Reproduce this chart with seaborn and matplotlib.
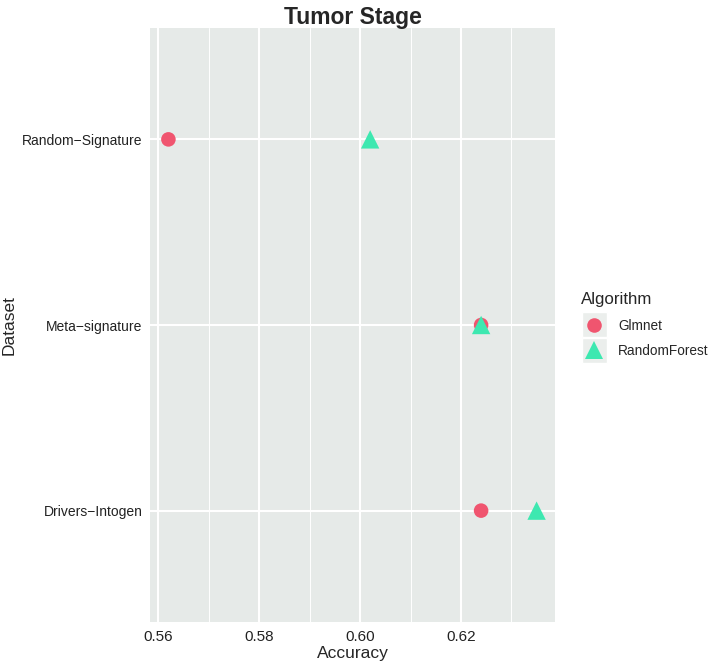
import matplotlib
matplotlib.use("Agg")
import matplotlib.pyplot as plt
import numpy as np
import pandas as pd
import seaborn as sns
from matplotlib.patches import Rectangle
from matplotlib.ticker import MultipleLocator

# data
datasets = ["Drivers\u2212Intogen", "Meta\u2212signature", "Random\u2212Signature"]
glmnet_acc = [0.624, 0.624, 0.562]
rf_acc = [0.635, 0.624, 0.602]
algorithms = ["Glmnet", "RandomForest"]
palette = {"Glmnet": "#F0556F", "RandomForest": "#3DE8B0"}

df = pd.DataFrame({
    "Dataset": datasets * 2,
    "Accuracy": glmnet_acc + rf_acc,
    "Algorithm": ["Glmnet"] * 3 + ["RandomForest"] * 3,
})

sns.set_theme(style="white")
plt.rcParams["font.family"] = ["Liberation Sans", "DejaVu Sans"]

fig = plt.figure(figsize=(7.09, 6.63), dpi=100)
ax = fig.add_axes([150 / 709, 1 - 622 / 663, 405 / 709, 594 / 663])
ax.set_facecolor("#E6EAE8")

sns.scatterplot(
    data=df, x="Accuracy", y="Dataset",
    hue="Algorithm", style="Algorithm", size="Algorithm",
    hue_order=algorithms, style_order=algorithms, size_order=algorithms,
    palette=palette,
    markers={"Glmnet": "o", "RandomForest": "^"},
    sizes={"Glmnet": 110, "RandomForest": 175},
    linewidth=0, ax=ax, zorder=3,
)

lo, hi = min(glmnet_acc + rf_acc), max(glmnet_acc + rf_acc)
pad = (hi - lo) * 0.05
ax.set_xlim(lo - pad, hi + pad)
ax.set_ylim(-0.6, len(datasets) - 0.4)

ax.xaxis.set_major_locator(MultipleLocator(0.02))
ax.xaxis.set_minor_locator(MultipleLocator(0.01))
ax.xaxis.set_major_formatter(plt.FuncFormatter(lambda v, p: f"{v:.2f}"))
ax.grid(which="major", color="white", linewidth=1.5, zorder=0)
ax.grid(which="minor", axis="x", color="white", linewidth=0.7, zorder=0)
ax.set_axisbelow(True)
for s in ax.spines.values():
    s.set_visible(False)

ax.tick_params(axis="both", which="major", length=3.5, width=0.8, color="#333333",
               labelsize=10, labelcolor="#222222", pad=2)
ax.tick_params(axis="x", which="major", labelsize=11)
ax.tick_params(axis="x", which="minor", length=0)
ax.set_xlabel("Accuracy", fontsize=12.5, labelpad=2)
ax.set_ylabel("Dataset", fontsize=12.5, labelpad=4)
ax.set_title("Tumor Stage", fontsize=16.5, fontweight="bold", pad=3)

leg = ax.legend(
    title="Algorithm", loc="center left", bbox_to_anchor=(1.05, 0.5),
    frameon=False, fontsize=9.8, title_fontsize=12.2,
    handletextpad=0.75, labelspacing=0.85, borderaxespad=0,
)
leg._legend_box.align = "left"
leg.set_zorder(6)

# grey key backgrounds like ggplot
fig.canvas.draw()
inv = fig.transFigure.inverted()
for h in leg.legend_handles:
    bb = h.get_window_extent(fig.canvas.get_renderer())
    cx, cy = (bb.x0 + bb.x1) / 2, (bb.y0 + bb.y1) / 2
    half = 12.5
    (x0, y0) = inv.transform((cx - half, cy - half))
    (x1, y1) = inv.transform((cx + half, cy + half))
    ax.add_patch(Rectangle((x0, y0), x1 - x0, y1 - y0, transform=fig.transFigure,
                           facecolor="#EBEEEC", edgecolor="white", linewidth=1,
                           zorder=5, clip_on=False))

fig.savefig("out.png", dpi=100)
